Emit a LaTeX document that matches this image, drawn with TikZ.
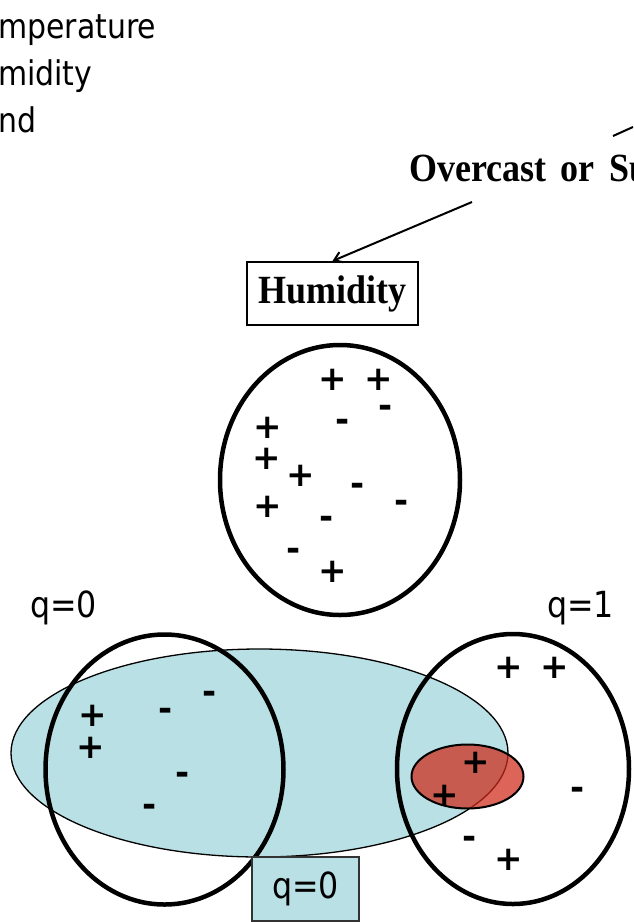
\documentclass[tikz,border=0pt]{standalone}
\usepackage{fontspec}
\setmainfont{Liberation Serif}
\newfontfamily\tahoma[FakeStretch=0.88]{DejaVu Sans}
\newfontfamily\signfont{DejaVu Sans}
\newfontfamily\headfont[FakeStretch=0.9,WordSpace=1.6]{Liberation Serif}
\usetikzlibrary{arrows.meta}
\definecolor{ink}{HTML}{000000}
\definecolor{cyanfill}{HTML}{B9E0E4}
\definecolor{redfill}{HTML}{CE2818}
\definecolor{boxline}{HTML}{333333}

\begin{document}
\begin{tikzpicture}[x=1pt,y=-1pt,
  sidetext/.style={font=\tahoma\fontsize{34}{40}\selectfont,inner sep=0pt,anchor=base west},
  qlabel/.style={font=\tahoma\fontsize{36}{42}\selectfont,inner sep=0pt,anchor=base west},
  attr/.style={font=\headfont\bfseries\fontsize{40}{44}\selectfont,inner sep=0pt},
  sign/.style={font=\signfont\bfseries\fontsize{34}{40}\selectfont,inner sep=0pt},
  split/.style={draw=ink,line width=4.5pt},
  link/.style={draw=ink,line width=2pt}]
  \useasboundingbox (0,0) rectangle (633,922);
  % attribute list, cut at the left edge
  \node[sidetext] (t1) at (-2,38) {mperature};
  \node[sidetext] (t2) at (-2,85) {midity};
  \node[sidetext] (t3) at (-2,132) {nd};
  % branch label and arrows
  \node[attr,anchor=base west] (over) at (409,181) {Overcast or Su};
  \coordinate (b0) at (613,136);
  \coordinate (b1) at (633,127);
  \draw[link] (b0) -- (b1);
  \node[attr,draw=ink,line width=2pt,minimum width=171pt,minimum height=63pt] (hum) at (332.5,293.5) {Humidity};
  \coordinate (a0) at (472,202);
  \draw[link,-{Straight Barb[length=8pt,width=11pt]}] (a0) -- (hum.north);
  % node data
  \draw[split] (340,480) ellipse [x radius=120pt,y radius=135pt];
  % split
  \node[qlabel] (q0) at (30,617) {q=0};
  \node[qlabel] (q1) at (547,617) {q=1};
  \draw[ink,line width=1.3pt,fill=cyanfill] (259.5,753) ellipse [x radius=248.5pt,y radius=104pt];
  \draw[split] (164.5,769.5) ellipse [x radius=119pt,y radius=135pt];
  \draw[split] (513,769) ellipse [x radius=116pt,y radius=135pt];
  \draw[ink,line width=2pt,fill=redfill,fill opacity=.72] (467.5,776.5) ellipse [x radius=56pt,y radius=32pt];
  \node[qlabel,anchor=center,draw=boxline,line width=1.5pt,fill=cyanfill,minimum width=107pt,minimum height=64pt] (qbox) at (305.5,889) {q=0};
  % examples
  \foreach \x/\y [count=\i] in {333/380,379/380,268/428,267/459,301/476,268/507,333/572,
    93/716,91/748,509/668,555/668,476/763,445/796,509/860}
    \node[sign] (pos\i) at (\x,\y) {+};
  \foreach \x/\y [count=\i] in {386/411,343/425,358/489,402/506,327/522,294/554,
    166/714,210/697,183/778,150/810,578/793,470/842}
    \node[sign] (neg\i) at (\x,\y) {-};
\end{tikzpicture}
\end{document}
